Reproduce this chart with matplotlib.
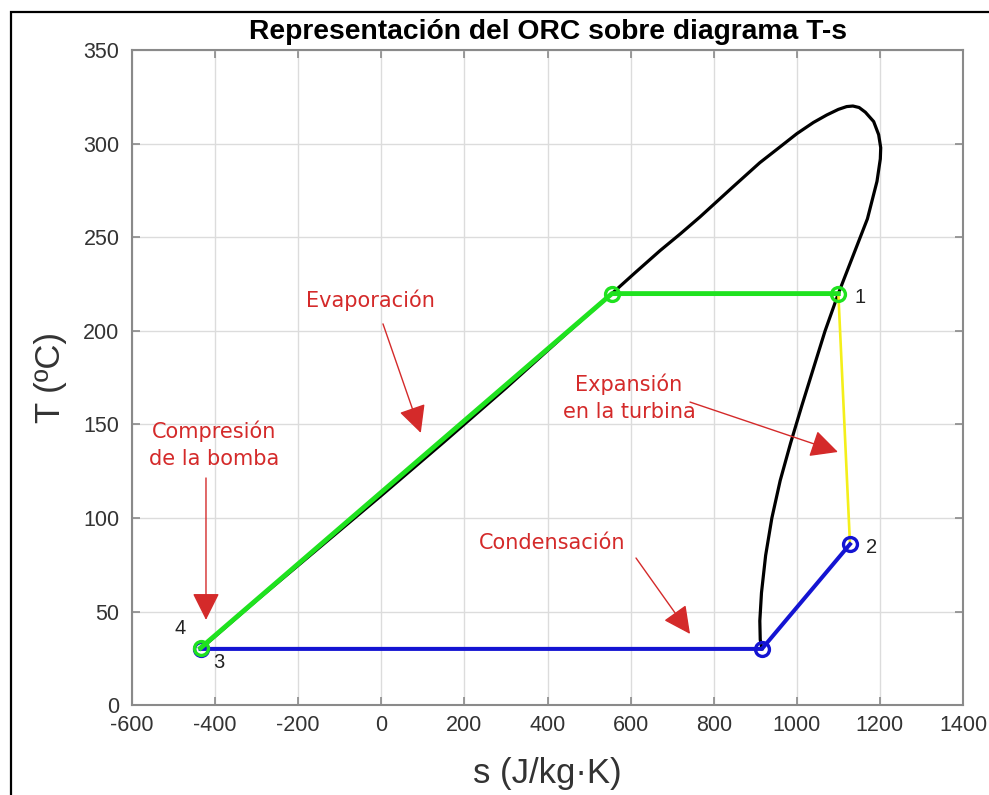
import matplotlib
matplotlib.use("Agg")
import matplotlib.pyplot as plt
from matplotlib.patches import FancyArrowPatch, Rectangle

plt.rcParams["axes.unicode_minus"] = False

# Saturation dome (liquid branch -> critical region -> vapour branch)
dome_s = [-435, -300, -150, 0, 150, 300, 450, 555, 610, 671, 720, 767, 846,
          911, 960, 1000, 1040, 1072, 1100, 1120, 1135, 1150, 1165, 1185,
          1197, 1202, 1201, 1193, 1170, 1135, 1100, 1068, 1040, 1012, 985,
          960, 940, 925, 915, 911, 912, 916]
dome_T = [30, 56, 84, 112, 140.5, 169.5, 199.5, 220, 231, 243, 252, 261, 277,
          290, 298.5, 305.5, 311.5, 315.5, 318.5, 320, 320.3, 319.5, 317, 312,
          305, 298, 292, 280, 260, 240, 220, 200, 180, 160, 140,
          120, 100, 80, 60, 45, 35, 30]

# ORC state points
s_1, T_1 = 1100, 220        # turbine inlet
s_2, T_2 = 1128, 86         # turbine outlet
s_3, T_3 = -435, 30         # condenser outlet
s_4, T_4 = -435, 30.5       # pump outlet
s_liq, T_liq = 555, 220     # saturated liquid at evaporation pressure
s_vap, T_vap = 916, 30      # saturated vapour at condensation pressure

evap_s = [s_4, s_liq, s_1]
evap_T = [T_4, T_liq, T_1]
exp_s = [s_1, s_2]
exp_T = [T_1, T_2]
cond_s = [s_2, s_vap, s_3]
cond_T = [T_2, T_vap, T_3]

point_labels = ["1", "2", "3", "4"]

x_ticks = list(range(-600, 1401, 200))
y_ticks = list(range(0, 351, 50))

RED = "#d42a2a"
GREEN = "#1fe21f"
BLUE = "#1414d2"
YELLOW = "#f4ef1a"

fig = plt.figure(figsize=(9.89, 7.95), dpi=100)
fig.patch.set_facecolor("white")
fig.patches.append(Rectangle((11 / 989, -0.05), 1.1, 1 - 12 / 795 + 0.05,
                             transform=fig.transFigure, fill=False,
                             edgecolor="black", linewidth=1.6, zorder=0))

ax = fig.add_axes([0.1335, 0.1132, 0.8402, 0.8233])
ax.set_xlim(-600, 1400)
ax.set_ylim(0, 350)
ax.set_xticks(x_ticks)
ax.set_yticks(y_ticks)
ax.grid(True, color="#dcdcdc", linewidth=1.0)
ax.set_axisbelow(True)
for sp in ax.spines.values():
    sp.set_color("#8a8a8a")
    sp.set_linewidth(1.5)
ax.tick_params(direction="in", length=5.5, width=1.2, color="#8a8a8a",
               top=True, right=True, labelsize=15.5, labelcolor="#333333")
ax.tick_params(axis="y", pad=9)
ax.tick_params(axis="x", pad=7.5)
for lab in ax.get_xticklabels() + ax.get_yticklabels():
    lab.set_family("Liberation Sans")

# Saturation curve
ax.plot(dome_s, dome_T, color="black", linewidth=2.3, zorder=3,
        solid_joinstyle="round")

# Cycle
ax.plot(exp_s, exp_T, color=YELLOW, linewidth=1.9, zorder=4)
ax.plot(cond_s, cond_T, color=BLUE, linewidth=2.9, marker="o", markersize=10,
        markerfacecolor="none", markeredgewidth=2.4, zorder=5)
ax.plot(evap_s, evap_T, color=GREEN, linewidth=3.5, marker="o", markersize=10,
        markerfacecolor="none", markeredgewidth=2.4, zorder=6)

# State labels
lab_kw = dict(fontsize=14.5, color="#222222", family="Liberation Sans",
              ha="center", va="center", zorder=7)
ax.text(1152, 218, point_labels[0], **lab_kw)
ax.text(1180, 84, point_labels[1], **lab_kw)
ax.text(-391, 22.5, point_labels[2], **lab_kw)
ax.text(-484, 41, point_labels[3], **lab_kw)

# Process annotations
ann_kw = dict(fontsize=15, color=RED, family="DejaVu Sans", ha="center",
              va="center", linespacing=1.45, zorder=7)


def arrow(tail, head):
    ax.add_patch(FancyArrowPatch(tail, head,
                                 arrowstyle="-|>,head_length=1.0,head_width=0.5",
                                 mutation_scale=17, color=RED, linewidth=1.0,
                                 shrinkA=0, shrinkB=0, zorder=7))


ax.text(-25, 216.6, "Evaporación", **ann_kw)
arrow((4, 203.8), (95, 145.5))

ax.text(596, 164.2, "Expansión\nen la turbina", **ann_kw)
arrow((743, 162), (1099, 135.3))

ax.text(-403, 139, "Compresión\nde la bomba", **ann_kw)
arrow((-422, 121.4), (-422, 45.5))

ax.text(411, 86.6, "Condensación", **ann_kw)
arrow((613, 78.6), (743, 38))

ax.set_title("Representación del ORC sobre diagrama T-s", fontsize=20.3,
             fontweight="bold", family="Liberation Sans", pad=8)

ax.set_xlabel("s (J/kg·K)", fontsize=25, family="Liberation Sans", color="#333333")
ax.set_ylabel("T (ºC)", fontsize=25, family="Liberation Sans", color="#333333")
ax.xaxis.label.set_va("center")
ax.yaxis.label.set_va("center")
ax.xaxis.set_label_coords(0.5, (705 - 773) / 654.5)
ax.yaxis.set_label_coords((50 - 132) / 831, 0.5)

fig.savefig("out.png", dpi=100)
